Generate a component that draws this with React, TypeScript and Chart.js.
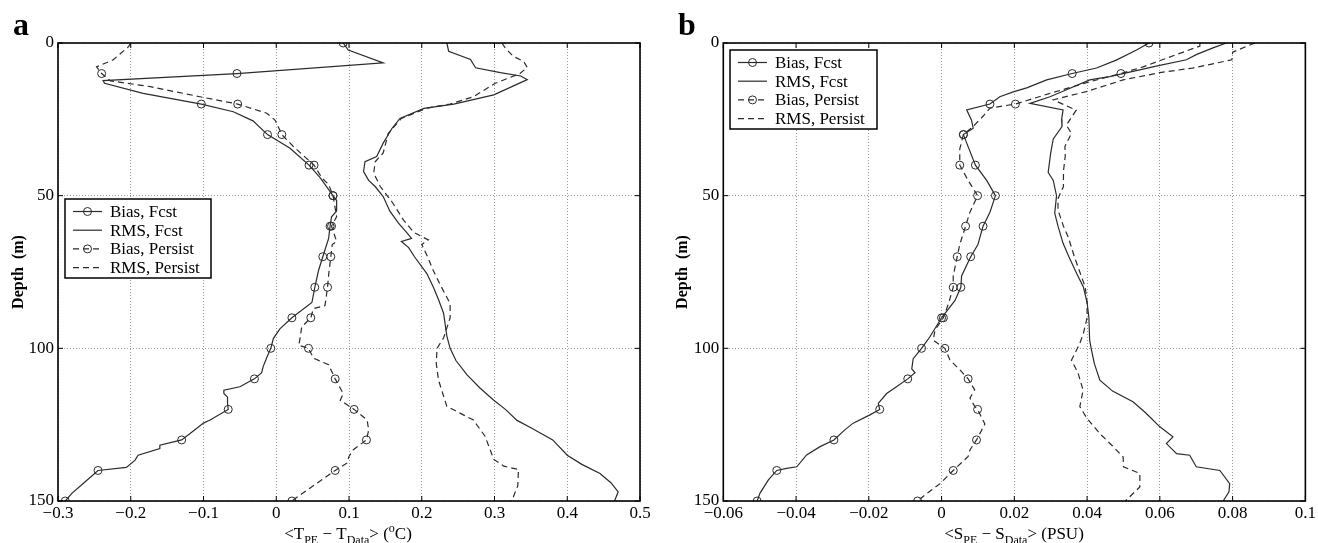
import React, { useEffect, useRef } from "react";
import { Chart, registerables } from "chart.js";
Chart.register(...registerables);

const SERIF = "'Liberation Serif', 'Times New Roman', serif";

const SERIES_LABELS = ["Bias, Fcst", "RMS, Fcst", "Bias, Persist", "RMS, Persist"];
const FCST_MARKER_DEPTHS = [0, 10, 20, 30, 40, 50, 60, 70, 80, 90, 100, 110, 120, 130, 140, 150];
const PERSIST_MARKER_DEPTHS = [10, 20, 30, 40, 50, 60, 70, 80, 90, 100, 110, 120, 130, 140, 150];

// ---------- Panel a : temperature ----------
const aXTicks = [-0.3, -0.2, -0.1, 0, 0.1, 0.2, 0.3, 0.4, 0.5];
const aBiasFcstDepth = [0, 2.3, 6.5, 10, 12.3, 13.2, 16.5, 20, 22.5, 25.5, 30, 34.5, 40, 44, 50, 51.6, 55, 56.9, 60, 64, 70, 74.6, 80, 85, 90, 93.6, 96.8, 100, 103, 106, 108, 110, 112.6, 113.7, 114.8, 116, 118, 120, 123.5, 124.5, 127.8, 130, 131.7, 132.8, 135, 136.6, 139, 140, 144.2, 147.5, 150];
const aBiasFcstVal = [0.092, 0.099, 0.147, -0.054, -0.238, -0.236, -0.183, -0.103, -0.059, -0.032, -0.012, 0.019, 0.045, 0.060, 0.078, 0.083, 0.083, 0.076, 0.074, 0.072, 0.064, 0.058, 0.053, 0.049, 0.0215, 0.005, -0.004, -0.0075, -0.013, -0.018, -0.020, -0.030, -0.050, -0.072, -0.072, -0.067, -0.067, -0.066, -0.091, -0.100, -0.118, -0.130, -0.160, -0.160, -0.190, -0.194, -0.206, -0.245, -0.265, -0.281, -0.290];

const aBiasPersistDepth = [0, 1.2, 5.5, 7.8, 10, 12.4, 14.3, 17.6, 20, 23, 25.3, 30, 34, 40, 44.3, 46.3, 50, 56.9, 59.5, 60, 65, 66, 70, 76, 80, 86, 87, 90, 93, 96.3, 99, 100, 103.2, 105.4, 110, 114.8, 117, 120, 123.5, 126.8, 130, 133.2, 135.4, 137.6, 140, 144.2, 148, 150];
const aBiasPersistVal = [-0.200, -0.203, -0.224, -0.247, -0.240, -0.228, -0.173, -0.105, -0.053, -0.013, -0.0015, 0.0077, 0.024, 0.052, 0.063, 0.072, 0.078, 0.083, 0.077, 0.076, 0.083, 0.077, 0.075, 0.072, 0.0705, 0.067, 0.051, 0.0475, 0.035, 0.033, 0.031, 0.0443, 0.051, 0.072, 0.081, 0.092, 0.088, 0.107, 0.125, 0.127, 0.124, 0.106, 0.100, 0.097, 0.081, 0.056, 0.033, 0.0215];

const aRmsFcstDepth = [0, 2.7, 5.4, 8.1, 9.7, 10.8, 12, 17, 20, 21.4, 24.7, 28, 32.8, 37.2, 38.9, 42.1, 45, 47, 50.3, 55, 59, 62.3, 64, 65, 67, 70, 75.5, 80, 84, 88.5, 96, 100, 104, 108.6, 113, 117, 120, 123.6, 126, 130, 135, 138, 141, 144, 147, 150];
const aRmsFcstVal = [0.2345, 0.237, 0.267, 0.274, 0.308, 0.336, 0.345, 0.299, 0.244, 0.203, 0.170, 0.159, 0.147, 0.138, 0.122, 0.120, 0.127, 0.136, 0.147, 0.156, 0.168, 0.180, 0.186, 0.172, 0.182, 0.190, 0.207, 0.216, 0.223, 0.230, 0.2345, 0.239, 0.247, 0.262, 0.280, 0.299, 0.315, 0.331, 0.350, 0.380, 0.400, 0.420, 0.445, 0.460, 0.470, 0.465];

const aRmsPersistDepth = [0, 1.7, 4.4, 6, 8, 10, 13.2, 17.6, 20, 21.4, 24.7, 29.6, 36, 38.9, 42.6, 47, 52, 58, 62, 64.5, 66, 70, 74.6, 79, 85.3, 90, 96.6, 100, 105, 110.4, 119, 123.5, 128.8, 133.2, 136.4, 138.6, 139.7, 145, 148.6, 150];
const aRmsPersistVal = [0.310, 0.315, 0.326, 0.340, 0.345, 0.335, 0.301, 0.271, 0.239, 0.206, 0.172, 0.154, 0.147, 0.136, 0.134, 0.143, 0.159, 0.175, 0.189, 0.209, 0.200, 0.208, 0.216, 0.225, 0.239, 0.239, 0.230, 0.221, 0.220, 0.223, 0.2345, 0.271, 0.287, 0.294, 0.299, 0.313, 0.333, 0.332, 0.326, 0.322];

// ---------- Panel b : salinity ----------
const bXTicks = [-0.06, -0.04, -0.02, 0, 0.02, 0.04, 0.06, 0.08, 0.1];
const bBiasFcstDepth = [0, 2.3, 5.6, 8.2, 10, 12.1, 14.7, 16, 17.6, 20, 21.9, 25.2, 27.9, 30, 40, 45, 50, 55.4, 60, 66, 70, 76.3, 80, 84.3, 90, 96.2, 100, 103.4, 106.7, 108, 110, 112.6, 114.8, 118, 120, 121.8, 124.5, 126.7, 130, 132.2, 134.9, 138.8, 139.3, 140, 143.1, 147.4, 150];
const bBiasFcstVal = [0.057, 0.0536, 0.048, 0.0426, 0.0359, 0.0289, 0.0234, 0.0197, 0.016, 0.0133, 0.0069, 0.0082, 0.0087, 0.006, 0.0093, 0.0124, 0.0148, 0.0133, 0.0114, 0.010, 0.008, 0.0055, 0.0053, 0.0037, 0.0000, -0.0032, -0.0055, -0.0078, -0.0082, -0.0073, -0.0093, -0.0124, -0.0151, -0.0174, -0.0170, -0.0197, -0.0243, -0.0266, -0.0296, -0.0334, -0.0371, -0.0398, -0.0426, -0.0453, -0.0476, -0.0499, -0.0507];

const bBiasPersistDepth = [0, 1, 5, 7.8, 10, 12.7, 16.5, 20, 21.3, 24, 27.3, 30, 34.7, 40, 45, 50, 55.4, 60, 66, 70, 76.3, 80, 85, 90, 94, 97.3, 100, 103.8, 107, 110, 113.6, 116.3, 119, 120, 124.8, 130, 133.3, 135.4, 140, 144.4, 147.6, 150];
const bBiasPersistVal = [0.071, 0.071, 0.0618, 0.0554, 0.0493, 0.0407, 0.0298, 0.0203, 0.0133, 0.0114, 0.0087, 0.006, 0.005, 0.005, 0.0073, 0.0099, 0.0078, 0.0066, 0.005, 0.0043, 0.0032, 0.0032, 0.002, 0.0005, -0.0018, -0.0023, 0.0009, 0.0023, 0.005, 0.0073, 0.0091, 0.0078, 0.0091, 0.0099, 0.0119, 0.0096, 0.0078, 0.0073, 0.0032, -0.0005, -0.0041, -0.0066];

const bRmsFcstDepth = [0, 1.6, 3.8, 5.5, 7.6, 9.3, 11, 12.1, 15, 17.6, 19.8, 21.9, 25, 27.4, 31.4, 36, 42.4, 45, 50, 55.7, 60, 65.6, 70, 75.4, 80, 85, 90, 97.3, 100.5, 105, 110.4, 114, 117.5, 121, 125.7, 129, 131.2, 134.5, 135, 138.8, 140, 144.3, 147, 150];
const bRmsFcstVal = [0.0783, 0.0746, 0.070, 0.0673, 0.059, 0.0526, 0.0462, 0.0407, 0.035, 0.0298, 0.0243, 0.0334, 0.033, 0.0331, 0.0307, 0.030, 0.0293, 0.0307, 0.0316, 0.0311, 0.032, 0.0334, 0.035, 0.0371, 0.039, 0.040, 0.0405, 0.0407, 0.0412, 0.042, 0.0435, 0.047, 0.0526, 0.056, 0.060, 0.0636, 0.0618, 0.0646, 0.0682, 0.070, 0.0765, 0.0792, 0.079, 0.0774];

const bRmsPersistDepth = [0, 3, 5.5, 8.2, 9.7, 12.1, 15.9, 18.6, 22, 26.9, 29.6, 33.9, 37, 42, 47, 51, 54.7, 60, 63.5, 70, 75, 80, 85, 90, 95, 98.4, 103.9, 108, 113.7, 119.1, 123, 127.9, 132, 135.6, 138.8, 141, 145.4, 150];
const bRmsPersistVal = [0.0861, 0.080, 0.0798, 0.069, 0.060, 0.0499, 0.0398, 0.0307, 0.037, 0.0343, 0.0357, 0.0339, 0.034, 0.0335, 0.0335, 0.032, 0.032, 0.0335, 0.0348, 0.0365, 0.038, 0.0395, 0.040, 0.040, 0.039, 0.038, 0.0357, 0.0375, 0.0389, 0.038, 0.040, 0.0435, 0.047, 0.0499, 0.050, 0.0545, 0.0545, 0.0505];

const INK = "#2b2b2b";

function fmtTick(v: number) {
  const r = Math.round(v * 1000) / 1000;
  const s = String(Math.abs(r));
  return r < 0 ? "\u2212" + s : s;
}

function series(label: string, depths: number[], vals: number[], dashed: boolean, markers: number[] | null) {
  const set = new Set(markers || []);
  return {
    label,
    data: depths.map((d, i) => ({ x: vals[i], y: d })),
    showLine: true,
    borderColor: INK,
    borderWidth: 1.2,
    borderDash: dashed ? [6, 4] : [],
    tension: 0,
    pointStyle: "circle",
    pointRadius: (ctx: any) => (ctx.raw && set.has(ctx.raw.y) ? 4 : 0),
    pointHoverRadius: 0,
    pointBorderWidth: 1,
    pointBorderColor: INK,
    pointBackgroundColor: "rgba(0,0,0,0)",
  };
}

const decorPlugin = {
  id: "decor",
  afterDraw(chart: any, _args: any, opts: any) {
    const ctx = chart.ctx;
    const ca = chart.chartArea;
    ctx.save();
    // frame
    ctx.strokeStyle = "#000";
    ctx.lineWidth = 1.6;
    ctx.setLineDash([]);
    ctx.strokeRect(ca.left, ca.top, ca.right - ca.left, ca.bottom - ca.top);
    // inward tick marks
    ctx.lineWidth = 1;
    const xs = chart.scales.x;
    const ys = chart.scales.y;
    xs.ticks.forEach((t: any) => {
      const px = xs.getPixelForValue(t.value);
      ctx.beginPath();
      ctx.moveTo(px, ca.bottom); ctx.lineTo(px, ca.bottom - 5);
      ctx.moveTo(px, ca.top); ctx.lineTo(px, ca.top + 5);
      ctx.stroke();
    });
    ys.ticks.forEach((t: any) => {
      const py = ys.getPixelForValue(t.value);
      ctx.beginPath();
      ctx.moveTo(ca.left, py); ctx.lineTo(ca.left + 5, py);
      ctx.moveTo(ca.right, py); ctx.lineTo(ca.right - 5, py);
      ctx.stroke();
    });
    // panel letter
    ctx.fillStyle = "#000";
    ctx.font = `bold 32px ${SERIF}`;
    ctx.textBaseline = "alphabetic";
    ctx.textAlign = "left";
    ctx.fillText(opts.letter, opts.letterX, 35);
    // y title
    ctx.save();
    ctx.translate(opts.yTitleX, (ca.top + ca.bottom) / 2);
    ctx.rotate(-Math.PI / 2);
    ctx.font = `bold 16px ${SERIF}`;
    ctx.textAlign = "center";
    ctx.textBaseline = "middle";
    ctx.fillText("Depth  (m)", 0, 0);
    ctx.restore();
    // x title with sub/superscripts
    const parts = opts.xTitle as { t: string; s: string }[];
    const fontFor = (s: string) => (s === "n" ? `17px ${SERIF}` : `12px ${SERIF}`);
    let total = 0;
    parts.forEach((p) => { ctx.font = fontFor(p.s); total += ctx.measureText(p.t).width; });
    let x = opts.xTitleCenter - total / 2;
    const base = 539;
    ctx.textAlign = "left";
    ctx.textBaseline = "alphabetic";
    parts.forEach((p) => {
      ctx.font = fontFor(p.s);
      const dy = p.s === "sub" ? 5 : p.s === "sup" ? -7 : 0;
      ctx.fillText(p.t, x, base + dy);
      x += ctx.measureText(p.t).width;
    });
    // legend
    const L = opts.legend;
    ctx.fillStyle = "#fff";
    ctx.fillRect(L.x, L.y, L.w, L.h);
    ctx.strokeStyle = "#000";
    ctx.lineWidth = 1.5;
    ctx.strokeRect(L.x, L.y, L.w, L.h);
    chart.data.datasets.forEach((ds: any, i: number) => {
      const yy = L.y + 12.5 + i * 18.7;
      ctx.strokeStyle = INK;
      ctx.lineWidth = 1.2;
      ctx.setLineDash(ds.borderDash || []);
      ctx.beginPath();
      ctx.moveTo(L.x + 8, yy);
      ctx.lineTo(L.x + 37, yy);
      ctx.stroke();
      ctx.setLineDash([]);
      if (i % 2 === 0) {
        ctx.lineWidth = 1;
        ctx.beginPath();
        ctx.arc(L.x + 22.5, yy, 4, 0, Math.PI * 2);
        ctx.stroke();
      }
      ctx.fillStyle = "#000";
      ctx.font = `17px ${SERIF}`;
      ctx.textBaseline = "middle";
      ctx.fillText(ds.label, L.x + 45, yy + 1);
    });
    ctx.restore();
  },
};

function buildConfig(p: any) {
  return {
    type: "scatter",
    data: { datasets: p.datasets },
    options: {
      responsive: false,
      animation: false,
      devicePixelRatio: 1,
      events: [],
      layout: { padding: { top: 43, right: p.padRight, left: 0, bottom: 0 } },
      plugins: {
        legend: { display: false },
        tooltip: { enabled: false },
        decor: p.decor,
      },
      scales: {
        x: {
          type: "linear",
          min: p.xTicks[0],
          max: p.xTicks[p.xTicks.length - 1],
          afterBuildTicks: (s: any) => { s.ticks = p.xTicks.map((v: number) => ({ value: v })); },
          afterFit: (s: any) => { s.height = 42; },
          ticks: {
            autoSkip: false,
            maxRotation: 0,
            padding: 2,
            color: "#000",
            font: { family: SERIF, size: 17 },
            callback: (v: any) => fmtTick(Number(v)),
          },
          grid: { color: "#9a9a9a", lineWidth: 1, drawTicks: false },
          border: { display: false, dash: [1, 2] },
        },
        y: {
          type: "linear",
          reverse: true,
          min: 0,
          max: 150,
          ticks: {
            stepSize: 50,
            padding: 4,
            color: "#000",
            font: { family: SERIF, size: 17 },
            callback: (v: any) => String(v),
          },
          afterFit: (s: any) => { s.width = p.yWidth; },
          grid: { color: "#9a9a9a", lineWidth: 1, drawTicks: false },
          border: { display: false, dash: [1, 2] },
        },
      },
    },
    plugins: [decorPlugin],
  };
}

const panelA = {
  left: 0,
  xTicks: aXTicks,
  padRight: 19,
  yWidth: 58,
  datasets: [
    series(SERIES_LABELS[0], aBiasFcstDepth, aBiasFcstVal, false, FCST_MARKER_DEPTHS),
    series(SERIES_LABELS[1], aRmsFcstDepth, aRmsFcstVal, false, null),
    series(SERIES_LABELS[2], aBiasPersistDepth, aBiasPersistVal, true, PERSIST_MARKER_DEPTHS),
    series(SERIES_LABELS[3], aRmsPersistDepth, aRmsPersistVal, true, null),
  ],
  decor: {
    letter: "a",
    letterX: 13,
    yTitleX: 19,
    xTitleCenter: 348,
    xTitle: [
      { t: "<T", s: "n" }, { t: "PE", s: "sub" }, { t: " \u2212 T", s: "n" }, { t: "Data", s: "sub" },
      { t: "> (", s: "n" }, { t: "o", s: "sup" }, { t: "C)", s: "n" },
    ],
    legend: { x: 65, y: 199, w: 146, h: 79 },
  },
};

const panelB = {
  left: 659,
  xTicks: bXTicks,
  padRight: 12.3,
  yWidth: 64.3,
  datasets: [
    series(SERIES_LABELS[0], bBiasFcstDepth, bBiasFcstVal, false, FCST_MARKER_DEPTHS),
    series(SERIES_LABELS[1], bRmsFcstDepth, bRmsFcstVal, false, null),
    series(SERIES_LABELS[2], bBiasPersistDepth, bBiasPersistVal, true, PERSIST_MARKER_DEPTHS),
    series(SERIES_LABELS[3], bRmsPersistDepth, bRmsPersistVal, true, null),
  ],
  decor: {
    letter: "b",
    letterX: 19,
    yTitleX: 24,
    xTitleCenter: 355,
    xTitle: [
      { t: "<S", s: "n" }, { t: "PE", s: "sub" }, { t: " \u2212 S", s: "n" }, { t: "Data", s: "sub" },
      { t: "> (PSU)", s: "n" },
    ],
    legend: { x: 71, y: 50, w: 147, h: 79 },
  },
};

function Panel({ p }: { p: any }) {
  const ref = useRef<HTMLCanvasElement>(null);
  useEffect(() => {
    const chart = new Chart(ref.current as HTMLCanvasElement, buildConfig(p) as any);
    return () => chart.destroy();
  }, []);
  return (
    <canvas
      ref={ref}
      width={659}
      height={543}
      style={{ position: "absolute", left: p.left, top: 0, width: 659, height: 543 }}
    />
  );
}

export default function App() {
  return (
    <div style={{ position: "absolute", left: 0, top: 0, width: 1318, height: 543, background: "#fff", overflow: "hidden" }}>
      <Panel p={panelA} />
      <Panel p={panelB} />
    </div>
  );
}
